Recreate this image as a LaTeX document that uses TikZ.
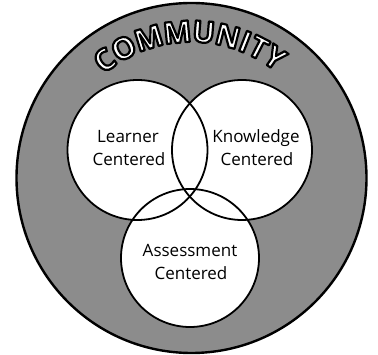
\documentclass[tikz,border=0pt]{standalone}
\usepackage{fontspec}
\setmainfont{Open Sans}
\usetikzlibrary{calc}
% white glyphs with a black stroke round them (PDF text render mode 2)
\newcommand\outlined[1]{\special{pdf:literal direct 2 Tr 2.2 w 1 j 1 g 0 G}#1\special{pdf:literal direct 0 Tr 0.4 w 0 j 0 g 0 G}}
\newcommand\ringletters{\fontsize{30}{30}\selectfont\bfseries}
\newlength\glyphw
\newlength\glyphsum
\newlength\arcpos
\def\ringR{146.5}% radius of the letter centres
\def\ringgap{1}% extra space between letters
\def\midang{90.9}% angle of the middle of the word
\begin{document}
% measure the word and work out one angle per letter
\global\glyphsum=0pt
\foreach \ch in {C,O,M,M,U,N,I,T,Y}{%
  \settowidth{\glyphw}{\ringletters\ch}%
  \global\advance\glyphsum by \glyphw}
\pgfmathsetmacro\wordlen{(\the\glyphsum)/1pt+8*\ringgap}
\pgfmathsetmacro\startang{\midang+(\wordlen/2)/\ringR*180/pi}
\global\arcpos=0pt
\gdef\ringlist{}
\foreach \ch [count=\i] in {C,O,M,M,U,N,I,T,Y}{%
  \settowidth{\glyphw}{\ringletters\ch}%
  \edef\here{\the\dimexpr\arcpos+\glyphw/2\relax}%
  \pgfmathsetmacro\ang{\startang-((\here)/1pt+(\i-1)*\ringgap)/\ringR*180/pi}%
  \ifnum\i=1 \xdef\ringlist{\ch/\ang}\else\xdef\ringlist{\ringlist,\ch/\ang}\fi
  \global\advance\arcpos by \glyphw}%
\begin{tikzpicture}[x=1pt,y=-1pt,
  rim/.style={draw=black,line width=2.4pt,fill=black!45},
  zonefill/.style={fill=white},
  zoneline/.style={draw=black,line width=1.8pt},
  caption/.style={font=\fontsize{17}{20}\selectfont,anchor=base,inner sep=0pt},
  letter/.style={font=\ringletters,inner sep=0pt}]
\useasboundingbox (0,0) rectangle (378,355);

% centres of the outer ring and the three zones
\coordinate (o) at (191.5,178);
\coordinate (lc) at (137.5,150);
\coordinate (kc) at (242,150);
\coordinate (ac) at (190,258);

% community ring
\draw[rim] (o) circle[radius=175pt];

% the three overlapping zones: fill first, outline afterwards
\fill[zonefill] (lc) circle[radius=70pt];
\fill[zonefill] (kc) circle[radius=70pt];
\fill[zonefill] (ac) circle[radius=69pt];
\draw[zoneline] (lc) circle[radius=70pt];
\draw[zoneline] (kc) circle[radius=70pt];
\draw[zoneline] (ac) circle[radius=69pt];

% zone captions
\node[caption] (learnerA) at (128,143) {Learner};
\node[caption] (learnerB) at (129,166) {Centered};
\node[caption] (knowA) at (256,143) {Knowledge};
\node[caption] (knowB) at (257,166) {Centered};
\node[caption] (assessA) at (190,257) {Assessment};
\node[caption] (assessB) at (191,280) {Centered};

% lettering along the ring
\foreach \ch/\ang [count=\i] in \ringlist
  \node[letter,rotate=\ang-90] (com\i) at ($(o)+(\ang:\ringR pt)$) {\outlined{\ch}};
\end{tikzpicture}
\end{document}
